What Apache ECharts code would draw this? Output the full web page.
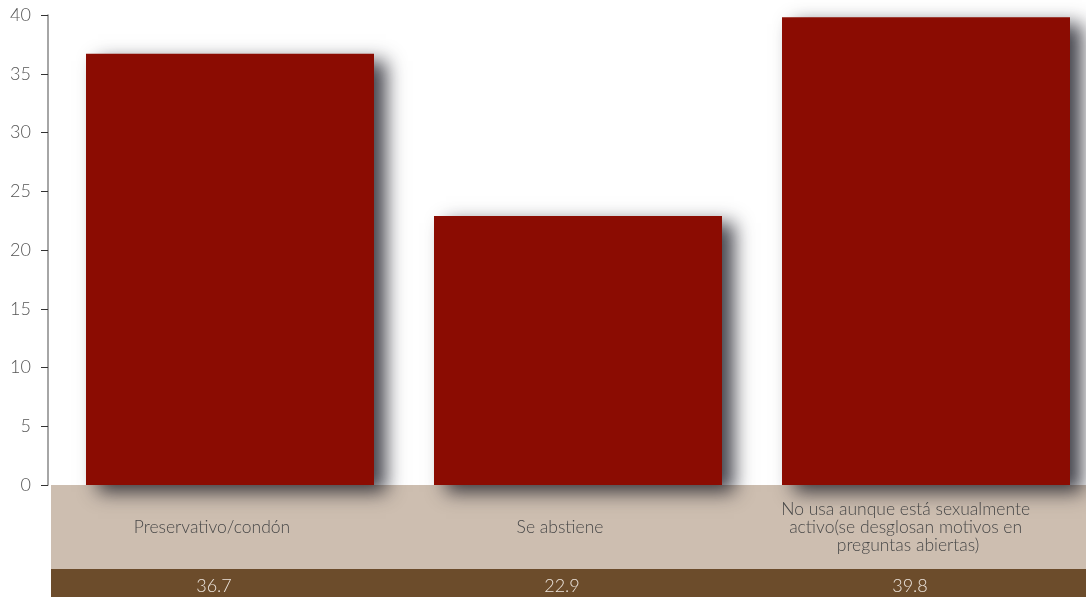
<!DOCTYPE html>
<html>
<head>
<meta charset="utf-8">
<script src="https://cdn.jsdelivr.net/npm/echarts@6/dist/echarts.min.js"></script>
<style>html,body{margin:0;padding:0;background:#fff}#c{width:1086px;height:597px}</style>
</head>
<body>
<div id="c"></div>
<script>
const categories = ['Preservativo/condón', 'Se abstiene', 'No usa aunque está sexualmente activo(se desglosan motivos en preguntas abiertas)'];
const values = [36.7, 22.9, 39.8];
const yTicks = [0, 5, 10, 15, 20, 25, 30, 35, 40];

const chart = echarts.init(document.getElementById('c'));
const font = 'Lato, sans-serif';
chart.setOption({
  animation: false,
  grid: { left: 56, width: 1044, top: 15, height: 470, containLabel: false, outerBoundsMode: 'none' },
  graphic: [
    { type: 'rect', left: 51, top: 485, shape: { width: 1035, height: 84 }, style: { fill: '#cdbeb0' }, z: 0 },
    { type: 'rect', left: 51, top: 569, shape: { width: 1035, height: 28 }, style: { fill: '#6c4c2b' }, z: 0 }
  ],
  xAxis: [
    {
      type: 'category', data: categories, position: 'bottom',
      axisLine: { show: false }, axisTick: { show: false },
      axisLabel: { interval: 0, margin: 42, verticalAlign: 'middle', color: '#484848', fontSize: 17.5, fontWeight: 300, fontFamily: font, width: 292, overflow: 'break', lineHeight: 18, align: 'center', padding: [0, 36, 0, 0] }
    },
    {
      type: 'category', data: values.map(v => v.toFixed(1)), position: 'bottom',
      axisLine: { show: false }, axisTick: { show: false },
      axisLabel: { interval: 0, margin: 101, verticalAlign: 'middle', color: '#ece4dc', fontSize: 18, fontWeight: 300, fontFamily: font, padding: [0, 32, 0, 0] }
    }
  ],
  yAxis: {
    type: 'value', min: 0, max: 40, interval: 5, offset: 8,
    axisLine: { show: true, lineStyle: { color: '#888', width: 1.5 } },
    axisTick: { show: true, length: 7, lineStyle: { color: '#333' } },
    splitLine: { show: false },
    axisLabel: { margin: 17, color: '#555', fontSize: 18, fontWeight: 300, fontFamily: font, formatter: v => yTicks.includes(v) ? String(v) : '' }
  },
  series: [{
    type: 'bar', data: values, barWidth: 288, xAxisIndex: 0,
    itemStyle: { color: '#8b0c02', shadowColor: 'rgba(20,20,30,0.8)', shadowBlur: 18, shadowOffsetX: 12, shadowOffsetY: 7 }
  }]
});
</script>
</body>
</html>
